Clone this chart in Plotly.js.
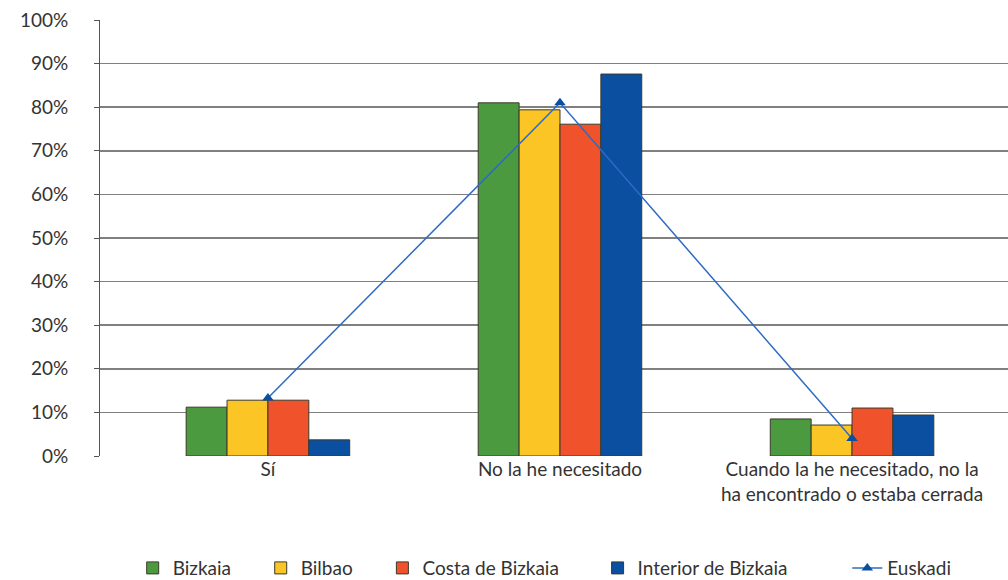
<!DOCTYPE html>
<html><head><meta charset="utf-8">
<script src="https://cdn.plot.ly/plotly-3.0.1.min.js"></script>
<style>body{margin:0;background:#fff}#c{width:1008px;height:580px}</style>
</head><body><div id="c"></div>
<script>
const categories = ["Sí", "No la he necesitado", "Cuando la he necesitado, no la<br>ha encontrado o estaba cerrada"];
const bizkaia = [11.2, 81.0, 8.5];
const bilbao = [12.8, 79.4, 7.1];
const costa = [12.8, 76.1, 11.0];
const interior = [3.7, 87.6, 9.4];
const euskadi = [13.3, 81.0, 4.0];
const yTicks = [0,10,20,30,40,50,60,70,80,90,100];
const yTickLabels = yTicks.map(v => v + "%");

const idx = categories.map((_, i) => i);
const font = {family: "Lato, 'Open Sans', sans-serif", size: 19, color: "#333"};
const legendX = [0.036, 0.177, 0.311, 0.548, 0.823];
function bar(name, y, color, lg) {
  return {type: "bar", name, x: idx, y, legend: lg,
          marker: {color, line: {color: "#3a3a2a", width: 1}}};
}
const data = [
  bar("Bizkaia", bizkaia, "#4b9a3f", "legend"),
  bar("Bilbao", bilbao, "#fcc526", "legend2"),
  bar("Costa de Bizkaia", costa, "#f0532b", "legend3"),
  bar("Interior de Bizkaia", interior, "#0b4fa1", "legend4"),
  {type: "scatter", mode: "lines+markers", name: "Euskadi", x: idx, y: euskadi, legend: "legend5",
   line: {color: "#2d6bc4", width: 1.5},
   marker: {symbol: "triangle-up", size: 10, color: "#0b4fa1"}}
];
function lg(x) {
  return {orientation: "h", x, xanchor: "left", y: -0.257, yanchor: "middle",
          font, bgcolor: "rgba(0,0,0,0)"};
}
const layout = {
  width: 1008, height: 580,
  margin: {l: 100, r: 0, t: 20, b: 124, autoexpand: false},
  paper_bgcolor: "#fff", plot_bgcolor: "#fff",
  font,
  barmode: "group", bargap: 0.44, bargroupgap: 0,
  xaxis: {range: [-0.575, 2.534], tickmode: "array", tickvals: idx, ticktext: categories,
          showgrid: false, zeroline: false, showline: false, ticks: "", fixedrange: true,
          tickfont: font},
  yaxis: {range: [0, 100], tickmode: "array", tickvals: yTicks, ticktext: yTickLabels,
          showgrid: true, gridcolor: "#808080", gridwidth: 1.5, zeroline: false,
          showline: true, linecolor: "#555", linewidth: 1, ticks: "outside", ticklen: 5,
          tickcolor: "#555", ticklabelstandoff: 22, tickfont: font},
  legend: lg(legendX[0]), legend2: lg(legendX[1]), legend3: lg(legendX[2]),
  legend4: lg(legendX[3]), legend5: lg(legendX[4]),
  showlegend: true
};
Plotly.newPlot("c", data, layout, {displayModeBar: false, staticPlot: true});
</script></body></html>
